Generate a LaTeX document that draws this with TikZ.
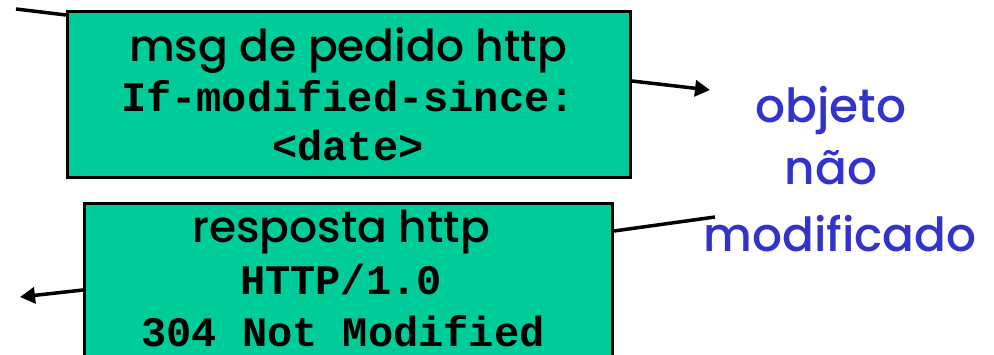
\documentclass[tikz,border=0pt]{standalone}
\usepackage{fontspec}
\setmainfont{Poppins Medium}
\setmonofont{Liberation Mono}
\usetikzlibrary{arrows.meta,calc}
\definecolor{boxgreen}{HTML}{00CC99}
\definecolor{txtblue}{HTML}{3333CC}
\tikzset{
  msgbox/.style={draw=black, line width=3pt, fill=boxgreen, anchor=north west, inner sep=0pt},
  wire/.style={draw=black, line width=3.5pt},
  tipline/.style={wire, -{Triangle[length=15pt,width=16pt]}},
  headtxt/.style={anchor=base, inner sep=0pt, font=\fontsize{44}{50}\selectfont},
  codetxt/.style={anchor=base, inner sep=0pt, font=\fontsize{42}{48}\selectfont\ttfamily\bfseries},
  bluetxt/.style={anchor=base, inner sep=0pt, text=txtblue, font=\fontsize{47}{52}\selectfont}
}
\begin{document}
\begin{tikzpicture}[x=1pt,y=-1pt]
\useasboundingbox (0,0) rectangle (994,355);
\clip (0,0) rectangle (994,355);
% boxes
\node[msgbox, minimum width=563pt, minimum height=166pt] (req) at (66,10) {};
\node[msgbox, minimum width=528pt, minimum height=180pt] (resp) at (83,202) {};
% texts
\node[headtxt] (reqA) at (348,62) {msg de pedido http};
\node[codetxt] (reqB) at (348,112) {If-modified-since:};
\node[codetxt] (reqC) at (348,161) {<date>};
\node[headtxt] (respA) at (341,243) {resposta http};
\node[codetxt] (respB) at (341,295) {HTTP/1.0};
\node[codetxt] (respC) at (343,347) {304 Not Modified};
\node[bluetxt] (blA) at (831,123) {objeto};
\node[bluetxt] (blB) at (831,185) {não};
\node[bluetxt] (blC) at (840,252) {modificado};
% connectors
\coordinate (inA) at (16,9);
\coordinate (outA) at (710,90);
\coordinate (inB) at (715,217);
\coordinate (outB) at (20,297);
\draw[wire] (inA) -- ($(req.north west)+(0,5)$);
\draw[tipline] ($(req.north east)+(0,71)$) -- (outA);
\draw[wire] (inB) -- ($(resp.north east)+(0,29)$);
\draw[tipline] ($(resp.north west)+(0,88)$) -- (outB);
\end{tikzpicture}
\end{document}
